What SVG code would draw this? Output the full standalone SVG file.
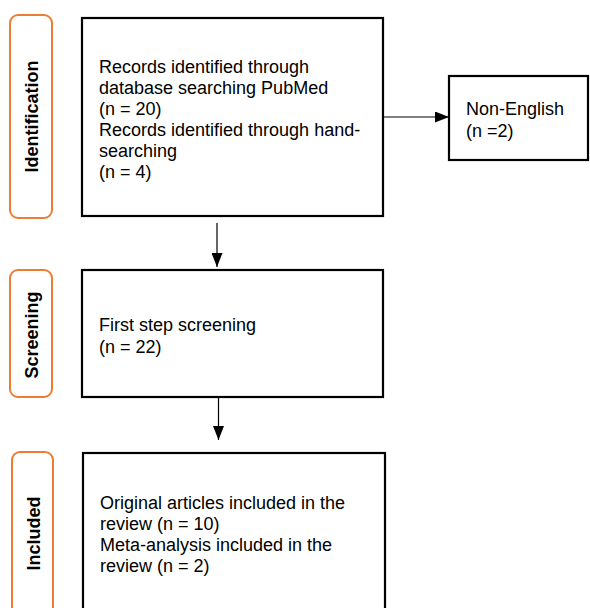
<svg xmlns="http://www.w3.org/2000/svg" width="590" height="608" viewBox="0 0 590 608">
<defs>
<style>
.stage{fill:#fff;stroke:#ED7D31;stroke-width:2}
.box{fill:#fff;stroke:#000;stroke-width:2.2}
.lbl{font-family:"Liberation Sans",Arial,sans-serif;font-size:18px;font-weight:bold;fill:#000;text-anchor:middle}
.txt{font-family:"Liberation Sans",Arial,sans-serif;font-size:18px;fill:#000}
.conn{stroke:#000;stroke-width:1.2;fill:none}
</style>
<marker id="ah" markerWidth="14" markerHeight="11" refX="14" refY="5.5" orient="auto" markerUnits="userSpaceOnUse">
<path d="M0,0 L14,5.5 L0,11 Z" fill="#000"/>
</marker>
</defs>
<rect width="590" height="608" fill="#fff"/>
<g id="stage-identification">
<rect class="stage" x="10" y="15" width="42" height="203" rx="8"/>
<text class="lbl" transform="translate(37.5,116.5) rotate(-90)">Identification</text>
</g>
<g id="stage-screening">
<rect class="stage" x="10" y="270" width="42" height="127" rx="8"/>
<text class="lbl" transform="translate(37.5,335) rotate(-90)">Screening</text>
</g>
<g id="stage-included">
<rect class="stage" x="12" y="452" width="41" height="180" rx="8"/>
<text class="lbl" transform="translate(39.5,533.5) rotate(-90)">Included</text>
</g>
<g id="node-records">
<rect class="box" x="82" y="18" width="301" height="198"/>
<text class="txt" x="99" y="73">Records identified through</text>
<text class="txt" x="99" y="94">database searching PubMed</text>
<text class="txt" x="99" y="115">(n = 20)</text>
<text class="txt" x="99" y="136">Records identified through hand-</text>
<text class="txt" x="99" y="157">searching</text>
<text class="txt" x="99" y="178">(n = 4)</text>
</g>
<g id="node-nonenglish">
<rect class="box" x="449" y="76" width="139" height="84"/>
<text class="txt" x="466" y="115">Non-English</text>
<text class="txt" x="466" y="137">(n =2)</text>
</g>
<g id="node-screening">
<rect class="box" x="82" y="270" width="301" height="127"/>
<text class="txt" x="99" y="331">First step screening</text>
<text class="txt" x="99" y="353">(n = 22)</text>
</g>
<g id="node-included">
<rect class="box" x="83" y="453" width="302" height="180"/>
<text class="txt" x="100" y="509">Original articles included in the</text>
<text class="txt" x="100" y="530">review (n = 10)</text>
<text class="txt" x="100" y="551">Meta-analysis included in the</text>
<text class="txt" x="100" y="572">review (n = 2)</text>
</g>
<g id="connectors">
<line class="conn" x1="217" y1="223" x2="217" y2="267" marker-end="url(#ah)"/>
<line class="conn" x1="218.5" y1="397" x2="218.5" y2="440" marker-end="url(#ah)"/>
<line class="conn" x1="383" y1="117" x2="449" y2="117" marker-end="url(#ah)"/>
</g>
</svg>
